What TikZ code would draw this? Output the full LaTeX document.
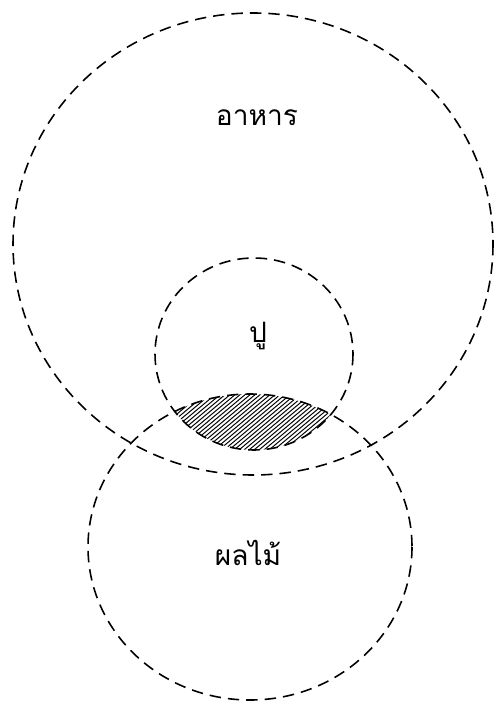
\documentclass[tikz,border=0pt]{standalone}
\usepackage{fontspec}
\newfontfamily\thaifont[Script=Thai]{Loma}
\begin{document}
\begin{tikzpicture}[x=0.02cm, y=-0.02cm, font=\thaifont\fontsize{16}{19}\selectfont,
    setline/.style={draw, line width=0.9pt, dash pattern=on 6.5pt off 4pt},
    hatch/.style={line width=0.55pt}]
  \useasboundingbox (0,0) rectangle (495,702);
  \coordinate (cfood) at (253,244);
  \coordinate (ccrab) at (254,354);
  \coordinate (cfruit) at (250,547);
  % shaded overlap of crab and fruit
  \begin{scope}
    \clip (ccrab) ellipse [x radius=99, y radius=96];
    \clip (cfruit) ellipse [x radius=162, y radius=153];
    \foreach \i in {40,45,...,360}
      \draw[hatch] (\i,470) -- ++(110,-92);
  \end{scope}
  \draw[setline] (cfood) ellipse [x radius=240, y radius=231];
  \draw[setline] (ccrab) ellipse [x radius=99, y radius=96];
  \draw[setline] (cfruit) ellipse [x radius=162, y radius=153];
  \node (food) at (257,118) {อาหาร};
  \node (crab) at (258,336) {ปู};
  \node (fruit) at (248,553) {ผลไม้};
\end{tikzpicture}
\end{document}
